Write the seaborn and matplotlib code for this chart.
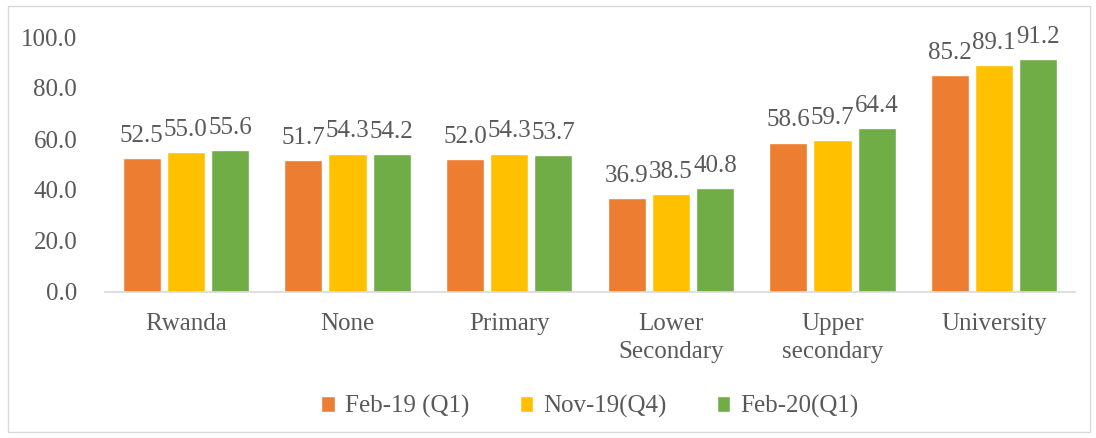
import pandas as pd
import matplotlib.pyplot as plt
import seaborn as sns

# Chart values
categories = ['Rwanda', 'None', 'Primary', 'Lower\nSecondary', 'Upper\nsecondary', 'University']
periods = ['Feb-19 (Q1)', 'Nov-19(Q4)', 'Feb-20(Q1)']
feb19 = [52.5, 51.7, 52.0, 36.9, 58.6, 85.2]
nov19 = [55.0, 54.3, 54.3, 38.5, 59.7, 89.1]
feb20 = [55.6, 54.2, 53.7, 40.8, 64.4, 91.2]
colors = ['#ED7D31', '#FFC000', '#70AD47']

data = pd.DataFrame({
    'Category': categories * 3,
    'Period': [periods[0]] * 6 + [periods[1]] * 6 + [periods[2]] * 6,
    'Value': feb19 + nov19 + feb20,
})

sns.set_style('white')
plt.rcParams['font.family'] = ['Liberation Serif', 'DejaVu Serif']
grey = '#595959'

fig = plt.figure(figsize=(10.96, 4.38), dpi=100)
ax = fig.add_axes([105 / 1096, 1 - 292 / 438, 970 / 1096, 255 / 438])

sns.barplot(data=data, x='Category', y='Value', hue='Period', palette=colors,
            width=0.82, gap=0.14, ax=ax, saturation=1)

for c in ax.containers:
    ax.bar_label(c, fmt='%.1f', padding=8, fontsize=18, color=grey)

ax.set_ylim(0, 100)
ax.set_yticks(range(0, 101, 20))
ax.set_yticklabels([f'{v:.1f}' for v in range(0, 101, 20)])
ax.set_xlim(-0.5, 5.5)
ax.set_xlabel('')
ax.set_ylabel('')
ax.tick_params(axis='y', labelsize=18, colors=grey, length=0, pad=20)
ax.tick_params(axis='x', labelsize=18, colors=grey, length=0, pad=15)
for lbl in ax.get_xticklabels():
    lbl.set_linespacing(1.35)
for s in ['top', 'right', 'left']:
    ax.spines[s].set_visible(False)
ax.spines['bottom'].set_color('#D9D9D9')
ax.spines['bottom'].set_linewidth(1.2)

ax.legend(loc='center', bbox_to_anchor=(0.5, -0.45), ncol=3, frameon=False,
          fontsize=18, labelcolor=grey, handlelength=0.55, handleheight=0.55,
          handletextpad=0.4, columnspacing=2.0)

# outer chart border
fig.patches.append(plt.Rectangle((8 / 1096, 6 / 438), 1082 / 1096, 426 / 438,
                                 transform=fig.transFigure, fill=False,
                                 edgecolor='#D9D9D9', linewidth=1))

fig.savefig('out.png', dpi=100)
